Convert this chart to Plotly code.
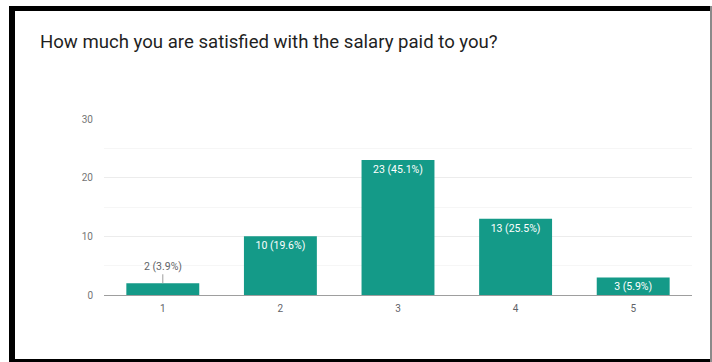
import plotly.graph_objects as go

# Survey responses: satisfaction with salary (1 = lowest, 5 = highest)
categories = ["1", "2", "3", "4", "5"]
counts = [2, 10, 23, 13, 3]
y_ticks = [0, 10, 20, 30]

title_text = "How much you are satisfied with the salary paid to you?"

W, H = 712, 362
M_L, M_R, M_T, M_B = 104, 20, 119, 67
PW, PH = W - M_L - M_R, H - M_T - M_B

BAR = "#149a88"
FONT = "Roboto, Arial, sans-serif"

total = sum(counts)
labels = [f"{c} ({c / total * 100:.1f}%)" for c in counts]
# bars too short for an inside label get a leader-line callout instead
small = [c < 3 for c in counts]

fig = go.Figure()
fig.add_trace(go.Bar(
    x=categories,
    y=counts,
    marker=dict(color=BAR, line=dict(width=0)),
    width=0.62,
    text=["" if s else t for s, t in zip(small, labels)],
    textposition=["none" if s else "inside" for s in small],
    insidetextanchor="end",
    constraintext="none",
    textfont=dict(family=FONT, size=10.5, color="white"),
    cliponaxis=False,
    hoverinfo="skip",
))

for i, (c, s, t) in enumerate(zip(counts, small, labels)):
    if s:
        # category axis: position by index of the category
        fig.add_annotation(
            x=i, y=c, xref="x", yref="y",
            text=t, showarrow=True, arrowhead=0, arrowwidth=1,
            arrowcolor="#9e9e9e", ax=0, ay=-17, standoff=0,
            font=dict(family=FONT, size=10.5, color="#5f6368"),
        )


def px_x(p):
    return (p - M_L) / PW


def px_y(p):
    return (H - M_B - p) / PH


# page frame drawn in pixel units
frame = [
    (9, 6, 712, 11),     # top band
    (9, 6, 15, 362),     # left band
    (9, 359, 712, 362),  # bottom band
]
for x0, y0, x1, y1 in frame:
    fig.add_shape(type="rect", xref="paper", yref="paper",
                  x0=px_x(x0), x1=px_x(x1), y0=px_y(y0), y1=px_y(y1),
                  fillcolor="black", line=dict(width=0), layer="above")
fig.add_shape(type="rect", xref="paper", yref="paper",
              x0=px_x(710), x1=px_x(712), y0=px_y(6), y1=px_y(362),
              fillcolor="#8a8a8a", line=dict(width=0), layer="above")

fig.add_annotation(
    xref="paper", yref="paper", x=px_x(38), y=px_y(42),
    xanchor="left", yanchor="middle", showarrow=False,
    text=title_text, font=dict(family=FONT, size=18.6, color="#1f1f1f"),
)

fig.update_layout(
    width=W, height=H,
    margin=dict(l=M_L, r=M_R, t=M_T, b=M_B, pad=0),
    paper_bgcolor="white", plot_bgcolor="white",
    showlegend=False,
    bargap=0.38,
    font=dict(family=FONT),
)
fig.update_xaxes(
    showgrid=False, showline=True, linecolor="#9e9e9e", linewidth=1,
    ticks="", tickfont=dict(family=FONT, size=10, color="#5f6368"),
    ticklabelstandoff=4,
)
fig.update_yaxes(
    range=[0, 30], tickvals=y_ticks, showgrid=True, gridcolor="#ececec",
    gridwidth=1, zeroline=False, showline=False,
    minor=dict(dtick=5, showgrid=True, gridcolor="#f6f6f6"),
    tickfont=dict(family=FONT, size=10, color="#757575"),
    ticklabelstandoff=10,
)

fig.write_html("out.html")
